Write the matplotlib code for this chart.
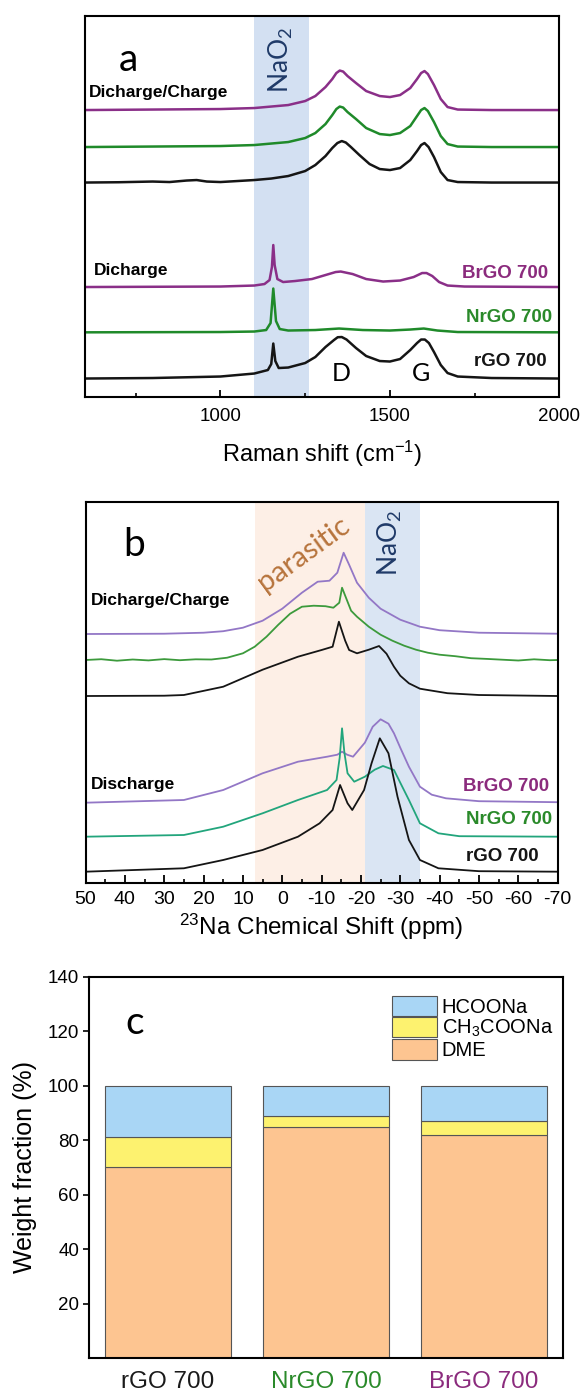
import matplotlib
matplotlib.use('Agg')
import matplotlib.pyplot as plt
from matplotlib.ticker import MultipleLocator

plt.rcParams['font.family'] = ['Liberation Sans', 'DejaVu Sans']
plt.rcParams['axes.unicode_minus'] = False

# ---- panel a : Raman spectra (intensity in arbitrary units, offset stacked)
raman_dc_x = [600, 800, 1000, 1100, 1200, 1250, 1280, 1310, 1330, 1342, 1352, 1362, 1375, 1400,
              1430, 1470, 1500, 1530, 1560, 1580, 1592, 1602, 1612, 1630, 1650, 1670, 1700,
              1800, 2000]
raman_dc_brgo = [287, 287.5, 288, 289, 292, 296, 301, 310, 318, 324, 326.5, 325.5, 321, 314,
                 306, 301, 300, 302, 309, 318, 324, 326, 323, 312, 298, 290, 287.5,
                 287, 287]
raman_dc_nrgo = [250, 250.5, 251, 252, 255, 259, 264, 273, 282, 288, 290.5, 289.5, 285, 278,
                 269, 263, 262, 264, 271, 281, 287, 289, 286, 275, 261, 253, 250.5,
                 250, 250]
raman_dc_rgo_x = [600, 700, 800, 850, 900, 930, 960, 1000, 1050, 1100, 1150, 1200, 1250,
                  1280, 1310, 1330, 1345, 1358, 1370, 1385, 1410, 1440, 1470, 1500, 1530, 1560,
                  1580, 1592, 1602, 1614, 1630, 1650, 1670, 1700, 1800, 2000]
raman_dc_rgo = [214.5, 214.8, 215.5, 215, 216.5, 217, 215.5, 215, 216, 217, 218.5, 221, 226,
                232, 241, 249, 254, 256, 254.5, 250, 242, 233, 228, 227, 229, 237,
                246, 252, 254, 250, 240, 225, 217, 215, 214.5, 214.5]
raman_d_brgo_x = [600, 1000, 1100, 1130, 1145, 1152, 1156, 1160, 1168, 1185, 1220, 1270, 1310,
                  1340, 1355, 1390, 1430, 1480, 1530, 1570, 1595, 1608, 1625, 1645, 1670, 1720,
                  2000]
raman_d_brgo = [110, 110.5, 111.5, 113, 117, 130, 152, 132, 118, 115, 116, 118, 122,
                125, 125.5, 123, 118, 115.5, 116.5, 120, 124, 124, 121, 115, 111.5, 110.5,
                110]
raman_d_nrgo_x = [600, 1000, 1100, 1135, 1148, 1156, 1164, 1175, 1200, 1280, 1350, 1420,
                  1500, 1560, 1600, 1640, 1700, 2000]
raman_d_nrgo = [64.7, 65, 65.5, 67, 74, 108.5, 76, 68, 66.5, 67, 68.5, 67,
                66.5, 67.5, 68.5, 66.5, 65, 64.7]
raman_d_rgo_x = [600, 800, 1000, 1100, 1140, 1150, 1156, 1162, 1172, 1200, 1250, 1280, 1310,
                 1335, 1346, 1358, 1372, 1400, 1430, 1470, 1500, 1530, 1560, 1580, 1592, 1603,
                 1615, 1630, 1650, 1670, 1700, 1800, 2000]
raman_d_rgo = [18.5, 19, 20.5, 23.5, 27, 33, 53.5, 36, 29, 29.5, 34, 40, 50,
               57, 59.8, 60, 57.5, 49, 41, 36, 35.5, 38, 47, 54, 57.5, 57.5,
               54, 45, 32, 24, 20.5, 19, 18.5]

# ---- panel b : 23Na NMR spectra
nmr_dc_brgo_x = [50, 30, 20, 15, 10, 5, 0, -5, -9, -12, -14, -15.6, -17, -19, -22, -25,
                 -30, -35, -40, -50, -70]
nmr_dc_brgo = [248.7, 249, 250, 251.5, 255, 262, 274, 290, 301, 302, 310, 330, 318, 300, 285, 274,
               263, 256, 252.5, 250, 249]
nmr_dc_nrgo_x = [50, 46, 42, 38, 34, 30, 26, 22, 18, 14, 10, 7, 4, 1, -2, -5, -8, -11, -13, -14.5,
                 -15.2, -16, -17.5, -19, -22, -25, -28, -31, -34, -37, -40, -44, -48, -52, -56,
                 -60, -64, -68, -70]
nmr_dc_nrgo = [222.7, 223.5, 222, 223.2, 222.3, 223.6, 222.5, 223.4, 223.2, 225, 229.4, 236, 246,
               258, 269, 276, 277, 276.5, 275, 280, 295, 287, 272, 266, 256, 248, 242, 237, 233,
               230, 228, 226.5, 224.5, 223.8, 223, 222.2, 223.4, 222.5, 222.7]
nmr_dc_rgo_x = [50, 30, 25, 15, 5, -4, -10, -12.8, -14.4, -16, -17, -19, -22, -24.6, -26.5,
                -28.4, -30, -32.2, -35, -37, -42, -50, -70]
nmr_dc_rgo = [186.7, 187, 187.7, 196, 213, 226, 232.7, 236, 261, 242, 232.7, 229.4, 233, 236.7, 229,
              216, 207, 199.4, 194, 192.7, 189.5, 187.7, 186.7]
nmr_d_brgo_x = [50, 25, 15, 5, -4, -11.4, -14, -15.2, -16.5, -18, -21, -23, -25, -27, -28.4,
                -30, -32.2, -35, -38, -41.6, -50, -70]
nmr_d_brgo = [80, 82.7, 92.7, 109.4, 121, 126, 128, 131, 128, 126, 140, 156, 163.4, 159, 149.4,
              135, 116, 96, 88, 84.4, 81.5, 80.5]
nmr_d_nrgo_x = [50, 25, 15, 5, -4, -11.4, -13.8, -14.6, -15.2, -15.8, -16.6, -18.3, -21, -23.5,
                -25.6, -28.4, -30, -32.2, -35, -39.7, -45, -70]
nmr_d_nrgo = [46, 47.7, 56, 69.4, 82.7, 92.7, 102.7, 125, 154.4, 130, 109.4, 101, 106, 113,
              116.7, 112.7, 100, 82.7, 59.4, 49.4, 46.5, 46]
nmr_d_rgo_x = [50, 25, 15, 5, -4, -9.5, -12.8, -14.7, -16.6, -17.8, -20.8, -22.7, -24.8, -27,
               -29.3, -32.2, -35, -39.7, -50, -70]
nmr_d_rgo = [11, 14.4, 22.7, 32.7, 46, 59.4, 72.7, 97.7, 79.4, 72.7, 92.7, 119.4, 144.4, 129.4,
             86, 42.7, 22.7, 14.4, 11.5, 11]

# ---- panel c : weight fractions (%)
samples = ['rGO 700', 'NrGO 700', 'BrGO 700']
dme = [70, 85, 82]
ch3coona = [11, 4, 5]
hcoona = [19, 11, 13]

purple = '#8a2f88'
green = '#1f8a2a'
black = '#151515'
label_colors = ['#1a1a1a', '#2a8a2a', '#8b2b7d']

fig = plt.figure(figsize=(5.83, 13.96), dpi=100)

# ================= panel a
ax1 = fig.add_axes([0.1454, 0.7156, 0.8142, 0.2729])
ax1.axvspan(1100, 1260, color='#d3e0f2', lw=0)
ax1.plot(raman_dc_x, raman_dc_brgo, color=purple, lw=1.8)
ax1.plot(raman_dc_x, raman_dc_nrgo, color=green, lw=1.8)
ax1.plot(raman_dc_rgo_x, raman_dc_rgo, color=black, lw=1.8)
ax1.plot(raman_d_brgo_x, raman_d_brgo, color=purple, lw=1.8)
ax1.plot(raman_d_nrgo_x, raman_d_nrgo, color=green, lw=1.8)
ax1.plot(raman_d_rgo_x, raman_d_rgo, color=black, lw=1.8)
ax1.set_xlim(600, 2000)
ax1.set_ylim(0, 381)
ax1.set_yticks([])
ax1.xaxis.set_major_locator(MultipleLocator(500))
ax1.xaxis.set_minor_locator(MultipleLocator(250))
ax1.tick_params(axis='x', which='major', direction='in', length=5, width=1.3, labelsize=13.5, pad=8)
ax1.tick_params(axis='x', which='minor', direction='in', length=3, width=1.2)
ax1.set_xticks([1000, 1500, 2000])
for s in ax1.spines.values():
    s.set_linewidth(1.5)
ax1.set_xlabel(r'Raman shift (cm$\mathregular{^{-1}}$)', fontsize=17, labelpad=10)

ax1.text(0.0915, 0.884, 'a', transform=ax1.transAxes, fontsize=28, family='Lato',
         ha='center', va='center')
ax1.text(0.413, 0.885, r'NaO$\mathregular{_2}$', transform=ax1.transAxes, fontsize=19,
         family='Lato', rotation=90, ha='center', va='center', color='#1f3a68')
ax1.text(0.009, 0.80, 'Dicharge/Charge', transform=ax1.transAxes, fontsize=12.5,
         weight='bold', ha='left', va='center')
ax1.text(0.019, 0.331, 'Dicharge', transform=ax1.transAxes, fontsize=12.5,
         weight='bold', ha='left', va='center')
ax1.text(0.977, 0.323, 'BrGO 700', transform=ax1.transAxes, fontsize=13.5,
         weight='bold', ha='right', va='center', color=label_colors[2])
ax1.text(0.984, 0.21, 'NrGO 700', transform=ax1.transAxes, fontsize=13.5,
         weight='bold', ha='right', va='center', color=label_colors[1])
ax1.text(0.972, 0.0945, 'rGO 700', transform=ax1.transAxes, fontsize=13.5,
         weight='bold', ha='right', va='center', color=black)
ax1.text(0.54, 0.063, 'D', transform=ax1.transAxes, fontsize=18, family='Lato',
         ha='center', va='center')
ax1.text(0.709, 0.063, 'G', transform=ax1.transAxes, fontsize=18, family='Lato',
         ha='center', va='center')

# ================= panel b
ax2 = fig.add_axes([0.1467, 0.3677, 0.8098, 0.2729])
ax2.axvspan(7, -21, color='#fdefe6', lw=0)
ax2.axvspan(-21, -35, color='#dae5f3', lw=0)
ax2.plot(nmr_dc_brgo_x, nmr_dc_brgo, color='#9377c6', lw=1.3)
ax2.plot(nmr_dc_nrgo_x, nmr_dc_nrgo, color='#3c9a3c', lw=1.3)
ax2.plot(nmr_dc_rgo_x, nmr_dc_rgo, color=black, lw=1.3)
ax2.plot(nmr_d_brgo_x, nmr_d_brgo, color='#9377c6', lw=1.3)
ax2.plot(nmr_d_nrgo_x, nmr_d_nrgo, color='#22a57c', lw=1.3)
ax2.plot(nmr_d_rgo_x, nmr_d_rgo, color=black, lw=1.3)
ax2.set_xlim(50, -70)
ax2.set_ylim(0, 381)
ax2.set_yticks([])
ax2.xaxis.set_major_locator(MultipleLocator(10))
ax2.xaxis.set_minor_locator(MultipleLocator(5))
ax2.tick_params(axis='x', which='major', direction='in', length=6, width=1.3, labelsize=14, pad=6)
ax2.tick_params(axis='x', which='minor', direction='in', length=3, width=1.2)
for s in ax2.spines.values():
    s.set_linewidth(1.5)
ax2.set_xlabel(r'$\mathregular{^{23}}$Na Chemical Shift (ppm)', fontsize=17.5, labelpad=3)

ax2.text(0.102, 0.886, 'b', transform=ax2.transAxes, fontsize=28, family='Lato',
         ha='center', va='center')
ax2.text(0.463, 0.862, 'parasitic', transform=ax2.transAxes, fontsize=21, family='Lato',
         rotation=36, ha='center', va='center', color='#b7743c')
ax2.text(0.645, 0.892, r'NaO$\mathregular{_2}$', transform=ax2.transAxes, fontsize=19,
         family='Lato', rotation=90, ha='center', va='center', color='#1f3a68')
ax2.text(0.012, 0.742, 'Dicharge/Charge', transform=ax2.transAxes, fontsize=12.5,
         weight='bold', ha='left', va='center')
ax2.text(0.012, 0.259, 'Discharge', transform=ax2.transAxes, fontsize=12.5,
         weight='bold', ha='left', va='center')
ax2.text(0.981, 0.252, 'BrGO 700', transform=ax2.transAxes, fontsize=13.5,
         weight='bold', ha='right', va='center', color=label_colors[2])
ax2.text(0.988, 0.165, 'NrGO 700', transform=ax2.transAxes, fontsize=13.5,
         weight='bold', ha='right', va='center', color=label_colors[1])
ax2.text(0.96, 0.068, 'rGO 700', transform=ax2.transAxes, fontsize=13.5,
         weight='bold', ha='right', va='center', color=black)

# ================= panel c
ax3 = fig.add_axes([0.1527, 0.027, 0.8133, 0.2734])
pos = range(len(samples))
bottom2 = [a + b for a, b in zip(dme, ch3coona)]
ax3.bar(pos, dme, 0.8, color='#fdc591', edgecolor='#555555', lw=0.8, label='DME')
ax3.bar(pos, ch3coona, 0.8, bottom=dme, color='#fdf26f', edgecolor='#555555', lw=0.8,
        label=r'CH$\mathregular{_3}$COONa')
ax3.bar(pos, hcoona, 0.8, bottom=bottom2, color='#a9d6f5', edgecolor='#555555', lw=0.8,
        label='HCOONa')
ax3.set_xlim(-0.5, 2.5)
ax3.set_ylim(0, 140)
ax3.set_yticks([20, 40, 60, 80, 100, 120, 140])
ax3.tick_params(axis='y', direction='out', length=4, width=1.2, labelsize=13.5, pad=3)
ax3.set_xticks(list(pos))
ax3.set_xticklabels(samples, fontsize=17.5)
ax3.tick_params(axis='x', length=0, pad=9)
for lab, c in zip(ax3.get_xticklabels(), label_colors):
    lab.set_color(c)
for s in ax3.spines.values():
    s.set_linewidth(1.5)
ax3.set_ylabel('Weight fraction (%)', fontsize=18, labelpad=8)
h, l = ax3.get_legend_handles_labels()
ax3.legend(h[::-1], l[::-1], loc='upper left', bbox_to_anchor=(0.64, 0.95), frameon=False,
           fontsize=14.5, handlelength=2.2, handleheight=1.2, labelspacing=0,
           handletextpad=0.25, borderpad=0, borderaxespad=0)
ax3.text(0.0955, 0.879, 'c', transform=ax3.transAxes, fontsize=28, family='Lato',
         ha='center', va='center')

fig.savefig('out.png', dpi=100)
